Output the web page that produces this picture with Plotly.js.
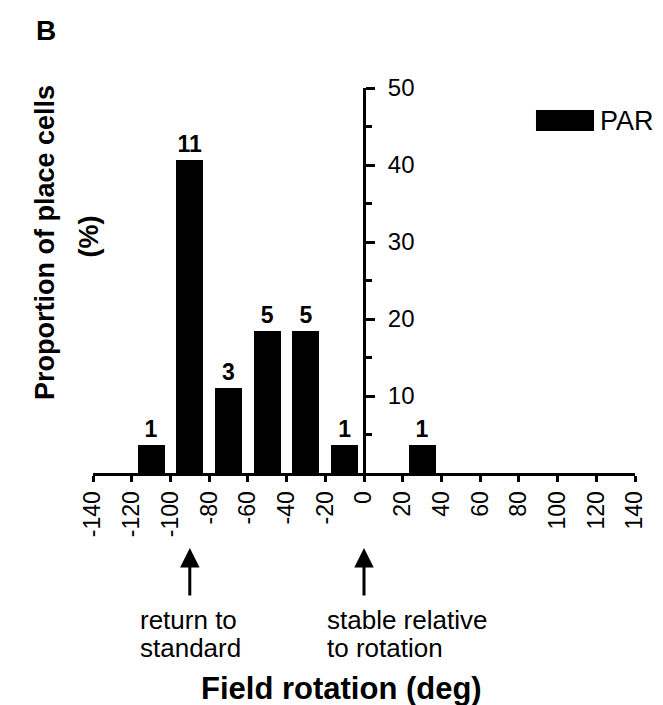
<!DOCTYPE html>
<html>
<head>
<meta charset="utf-8">
<script src="https://cdn.plot.ly/plotly-3.0.1.min.js"></script>
<style>html,body{margin:0;padding:0;background:#fff;}#chart{width:663px;height:705px;}</style>
</head>
<body>
<div id="chart"></div>
<script>
// ---- data ----
const rotationBins = [-110, -90, -70, -50, -30, -10, 30];
const proportionPct = [3.7, 40.7, 11.1, 18.5, 18.5, 3.7, 3.7];
const cellCounts = ['1', '11', '3', '5', '5', '1', '1'];
const xTickVals = [-140, -120, -100, -80, -60, -40, -20, 0, 20, 40, 60, 80, 100, 120, 140];
const xTickLabels = ['-140', '-120', '-100', '-80', '-60', '-40', '-20', '0', '20', '40', '60', '80', '100', '120', '140'];
const yTickVals = [10, 20, 30, 40, 50];
const yTickLabels = ['10', '20', '30', '40', '50'];
const yMinorVals = [5, 15, 25, 35, 45];
const seriesName = 'PAR';
const arrowTargets = [-90, 0];

const FONT = 'Liberation Sans, Arial, sans-serif';

const trace = {
  type: 'bar',
  x: rotationBins,
  y: proportionPct,
  width: 14,
  name: seriesName,
  text: cellCounts,
  texttemplate: '%{text}',
  textposition: 'outside',
  cliponaxis: false,
  textfont: {family: FONT, size: 23, color: '#000', weight: 'bold'},
  marker: {color: '#000', line: {width: 0}},
  hoverinfo: 'skip',
  showlegend: false
};

const annotations = [
  {text: 'B', xref: 'paper', yref: 'paper', x: -0.0867, y: 1.1506, xanchor: 'center', yanchor: 'middle', showarrow: false,
   font: {family: FONT, size: 28, color: '#000', weight: 'bold'}},
  {text: 'Proportion of place cells', xref: 'paper', yref: 'paper', x: -0.0886, y: 0.6, textangle: -90,
   xanchor: 'center', yanchor: 'middle', showarrow: false, font: {family: FONT, size: 27, color: '#000', weight: 'bold'}},
  {text: '(%)', xref: 'paper', yref: 'paper', x: -0.0083, y: 0.613, textangle: -90,
   xanchor: 'center', yanchor: 'middle', showarrow: false, font: {family: FONT, size: 27, color: '#000', weight: 'bold'}},
  {text: 'return to', xref: 'paper', yref: 'paper', x: 0.083, y: -0.381, xanchor: 'left', yanchor: 'middle', showarrow: false,
   font: {family: FONT, size: 26, color: '#000'}},
  {text: 'standard', xref: 'paper', yref: 'paper', x: 0.083, y: -0.454, xanchor: 'left', yanchor: 'middle', showarrow: false,
   font: {family: FONT, size: 26, color: '#000'}},
  {text: 'stable relative', xref: 'paper', yref: 'paper', x: 0.428, y: -0.381, xanchor: 'left', yanchor: 'middle', showarrow: false,
   font: {family: FONT, size: 26, color: '#000'}},
  {text: 'to rotation', xref: 'paper', yref: 'paper', x: 0.428, y: -0.454, xanchor: 'left', yanchor: 'middle', showarrow: false,
   font: {family: FONT, size: 26, color: '#000'}},
  {text: 'Field rotation (deg)', xref: 'paper', yref: 'paper', x: 0.4594, y: -0.561, xanchor: 'center', yanchor: 'middle', showarrow: false,
   font: {family: FONT, size: 31, color: '#000', weight: 'bold'}},
  {text: seriesName, xref: 'paper', yref: 'paper', x: 0.9317, y: 0.914, xanchor: 'left', yanchor: 'middle', showarrow: false,
   font: {family: FONT, size: 27, color: '#000'}}
];
arrowTargets.forEach(function (xv) {
  annotations.push({
    text: '', x: xv, xref: 'x', yref: 'paper', y: -0.1948,
    showarrow: true, axref: 'pixel', ayref: 'pixel', ax: 0, ay: 49,
    arrowhead: 2, arrowsize: 1.3, arrowwidth: 3, arrowcolor: '#000', standoff: 0
  });
});

const layout = {
  width: 663, height: 705, autosize: false,
  margin: {l: 93, r: 28, t: 88, b: 232, pad: 0},
  paper_bgcolor: '#fff', plot_bgcolor: '#fff',
  font: {family: FONT, color: '#000'},
  showlegend: false,
  bargap: 0,
  xaxis: {
    range: [-140, 140], autorange: false,
    tickmode: 'array', tickvals: xTickVals, ticktext: xTickLabels,
    tickangle: -90, ticks: 'outside', ticklen: 6, tickwidth: 3, tickcolor: '#000',
    tickfont: {family: FONT, size: 23, color: '#000'},
    showline: true, linewidth: 3, linecolor: '#000',
    showgrid: false, zeroline: false, fixedrange: true
  },
  yaxis: {
    range: [0, 50], autorange: false,
    anchor: 'free', position: 0.5, side: 'right',
    tickmode: 'array', tickvals: yTickVals, ticktext: yTickLabels,
    ticks: 'outside', ticklen: 9, tickwidth: 3, tickcolor: '#000',
    ticklabelstandoff: 8,
    minor: {tickmode: 'array', tickvals: yMinorVals, ticks: 'outside', ticklen: 6, tickwidth: 3, tickcolor: '#000', showgrid: false},
    tickfont: {family: FONT, size: 24, color: '#000'},
    showline: true, linewidth: 3, linecolor: '#000',
    showgrid: false, zeroline: false, fixedrange: true
  },
  shapes: [
    {type: 'rect', xref: 'paper', yref: 'paper', x0: 0.8173, x1: 0.9244, y0: 0.888, y1: 0.943,
     fillcolor: '#000', line: {width: 0}}
  ],
  annotations: annotations
};

Plotly.newPlot('chart', [trace], layout, {staticPlot: true, displayModeBar: false});
</script>
</body>
</html>
